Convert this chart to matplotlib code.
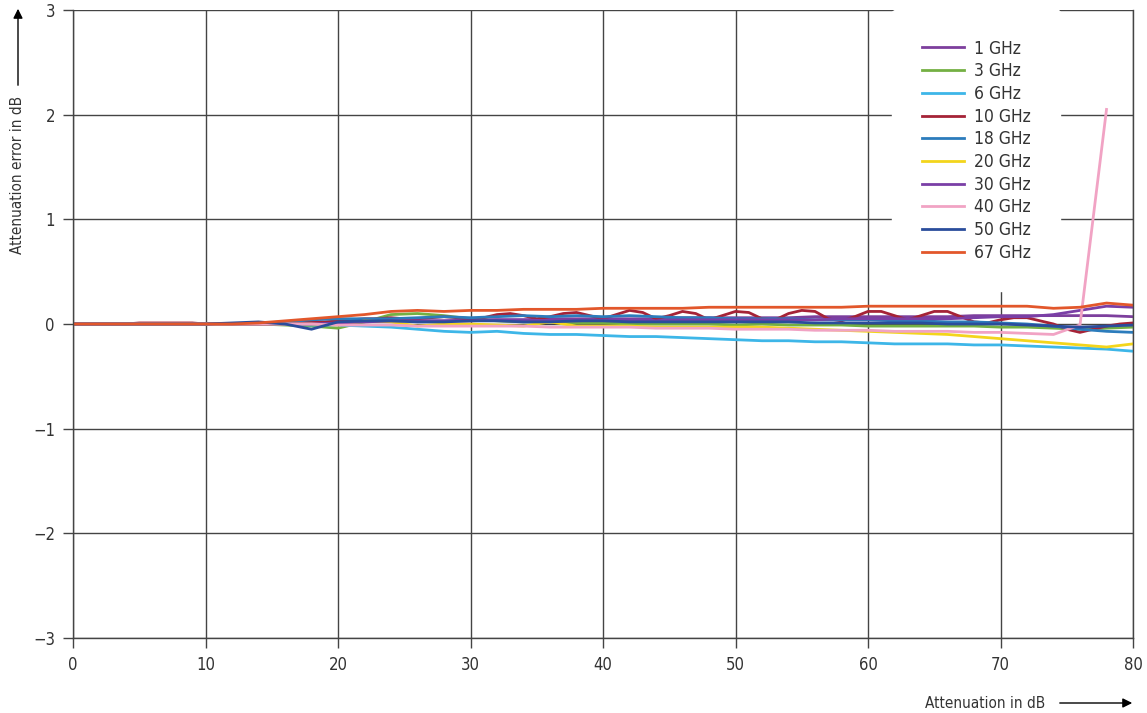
import matplotlib.pyplot as plt

# Attenuation steps in dB
att = list(range(0, 81, 2))
att_fine = list(range(0, 81))

labels = ["1 GHz", "3 GHz", "6 GHz", "10 GHz", "18 GHz",
          "20 GHz", "30 GHz", "40 GHz", "50 GHz", "67 GHz"]
colors = ["#7d3f9d", "#74b043", "#3db6e8", "#a52337", "#2c7cbc",
          "#f3d51c", "#7a3fa6", "#f1a3c4", "#2a4d9c", "#e2572b"]

err_1 = [0, 0, 0, 0, 0, 0, 0, 0, 0.01, 0.01,
         0.02, 0.02, 0.03, 0.03, 0.03, 0.04, 0.04, 0.04, 0.05, 0.05,
         0.05, 0.05, 0.05, 0.06, 0.06, 0.06, 0.06, 0.06, 0.07, 0.07,
         0.07, 0.07, 0.07, 0.07, 0.08, 0.08, 0.08, 0.08, 0.08, 0.08, 0.07]
err_3 = [0, 0, 0, 0, 0, 0, 0, 0, -0.01, -0.02,
         -0.04, 0.02, 0.09, 0.10, 0.08, 0.05, 0.03, 0.02, 0.02, 0.01,
         0.01, 0.0, 0.0, 0.0, 0.0, -0.01, 0.0, -0.01, -0.01, -0.01,
         -0.02, -0.02, -0.02, -0.02, -0.02, -0.03, -0.03, -0.04, -0.05, -0.04, -0.03]
err_6 = [0, 0, 0, 0, 0, 0, 0, 0, 0, -0.01,
         -0.01, -0.02, -0.03, -0.05, -0.07, -0.08, -0.07, -0.09, -0.10, -0.10,
         -0.11, -0.12, -0.12, -0.13, -0.14, -0.15, -0.16, -0.16, -0.17, -0.17,
         -0.18, -0.19, -0.19, -0.19, -0.20, -0.20, -0.21, -0.22, -0.23, -0.24, -0.26]
# 10 GHz read at 1 dB steps (ripple)
err_10 = [0, 0, 0, 0, 0, 0.01, 0.01, 0.01, 0.01, 0.01,
          0, 0, 0, 0, 0, 0, 0.01, 0.01, 0.02, 0.02,
          0.03, 0.04, 0.05, 0.05, 0.06, 0.05, 0.05, 0.06, 0.07, 0.06,
          0.04, 0.06, 0.09, 0.10, 0.08, 0.05, 0.07, 0.10, 0.11, 0.08,
          0.05, 0.09, 0.13, 0.11, 0.05, 0.08, 0.12, 0.10, 0.04, 0.08,
          0.12, 0.11, 0.05, 0.04, 0.10, 0.13, 0.12, 0.05, 0.03, 0.07,
          0.12, 0.12, 0.08, 0.04, 0.08, 0.12, 0.12, 0.07, 0.02, 0.01,
          0.04, 0.06, 0.06, 0.03, 0.0, -0.05, -0.08, -0.05, -0.02, 0.0, 0.01]
err_18 = [0, 0, 0, 0, 0, 0, 0, 0.01, 0.02, 0.04,
          0.05, 0.05, 0.05, 0.06, 0.07, 0.06, 0.07, 0.08, 0.07, 0.08,
          0.07, 0.08, 0.07, 0.06, 0.06, 0.05, 0.05, 0.05, 0.04, 0.04,
          0.04, 0.03, 0.03, 0.02, 0.02, 0.01, 0.0, -0.02, -0.05, -0.07, -0.08]
err_20 = [0, 0, 0, 0, 0, 0, 0, 0, 0, 0,
          -0.01, 0.03, 0.02, -0.02, 0.0, 0.0, -0.01, -0.02, 0.02, -0.02,
          -0.02, -0.02, -0.03, -0.03, -0.03, -0.03, -0.03, -0.04, -0.05, -0.06,
          -0.07, -0.08, -0.09, -0.10, -0.12, -0.14, -0.16, -0.18, -0.20, -0.22, -0.19]
err_30 = [0, 0, 0, 0, 0, 0, 0, 0, 0, 0,
          0.01, 0.02, 0.03, 0.03, 0.03, 0.03, 0.04, 0.04, 0.03, 0.03,
          0.04, 0.04, 0.03, 0.04, 0.04, 0.04, 0.04, 0.04, 0.04, 0.05,
          0.05, 0.05, 0.05, 0.05, 0.06, 0.07, 0.07, 0.09, 0.13, 0.17, 0.16]
# 40 GHz stops at 78 dB (spike)
err_40 = [0, 0, 0, 0, 0, 0, 0, 0, 0, 0,
          -0.01, -0.01, -0.01, -0.02, -0.02, -0.02, -0.02, -0.02, -0.03, -0.03,
          -0.03, -0.03, -0.04, -0.04, -0.04, -0.05, -0.05, -0.05, -0.06, -0.06,
          -0.06, -0.07, -0.07, -0.07, -0.08, -0.08, -0.09, -0.10, -0.01, 2.05]
err_50 = [0, 0, 0, 0, 0, 0, 0.01, 0.02, 0.0, -0.05,
          0.02, 0.03, 0.03, 0.02, 0.02, 0.03, 0.03, 0.02, 0.02, 0.03,
          0.03, 0.02, 0.02, 0.02, 0.02, 0.02, 0.02, 0.02, 0.01, 0.01,
          0.01, 0.01, 0.01, 0.0, 0.0, 0.0, -0.01, -0.02, -0.03, -0.02, -0.01]
err_67 = [0, 0, 0, 0, 0, 0, 0, 0.01, 0.03, 0.05,
          0.07, 0.09, 0.12, 0.13, 0.12, 0.13, 0.13, 0.14, 0.14, 0.14,
          0.15, 0.15, 0.15, 0.15, 0.16, 0.16, 0.16, 0.16, 0.16, 0.16,
          0.17, 0.17, 0.17, 0.17, 0.17, 0.17, 0.17, 0.15, 0.16, 0.20, 0.18]

series = [(att, err_1), (att, err_3), (att, err_6), (att_fine, err_10),
          (att, err_18), (att, err_20), (att, err_30), (att[:len(err_40)], err_40),
          (att, err_50), (att, err_67)]

plt.rcParams['font.family'] = ['DejaVu Sans']
plt.rcParams['font.stretch'] = 'condensed'

fig = plt.figure(figsize=(11.47, 7.13), dpi=100)
ax = fig.add_axes([73/1147, 1 - 638/713, 1060/1147, 628/713])

for (xs, ys), lab, col in zip(series, labels, colors):
    ax.plot(xs, ys, color=col, lw=2, label=lab)

ax.set_xlim(0, 80)
ax.set_ylim(-3, 3)
ax.set_xticks(range(0, 81, 10))
ax.set_yticks(range(-3, 4))
ax.grid(True, color="#444444", lw=1)
ax.set_axisbelow(True)
for s in ["left", "bottom", "right"]:
    ax.spines[s].set_color("#444444")
    ax.spines[s].set_linewidth(1)
ax.spines["top"].set_visible(False)
ax.tick_params(direction="out", length=7, width=1, color="#444444",
               labelsize=12, labelcolor="#333333", pad=6)

leg = ax.legend(loc="upper left", bbox_to_anchor=(0.773, 1.0), frameon=True,
                fontsize=12.5, handlelength=2.4, handletextpad=0.6,
                labelspacing=0.27, borderpad=1.7, borderaxespad=0.0,
                labelcolor="#333333")
leg.get_frame().set_edgecolor("white")
leg.get_frame().set_facecolor("white")
leg.get_frame().set_alpha(1)

# axis titles with arrows
fig.text(18/1147, 1 - 175/713, "Attenuation error in dB", rotation=90,
         ha="center", va="center", fontsize=11, color="#333333")
ax.annotate("", xy=(18/1147, 1 - 6/713), xytext=(18/1147, 1 - 88/713),
            xycoords="figure fraction",
            arrowprops=dict(arrowstyle="-|>", color="black", lw=1, mutation_scale=14))
fig.text(1045/1147, 1 - 703/713, "Attenuation in dB", ha="right", va="center",
         fontsize=11, color="#333333")
ax.annotate("", xy=(1135/1147, 1 - 703/713), xytext=(1057/1147, 1 - 703/713),
            xycoords="figure fraction",
            arrowprops=dict(arrowstyle="-|>", color="black", lw=1, mutation_scale=14))

fig.savefig("out.png", dpi=100)
